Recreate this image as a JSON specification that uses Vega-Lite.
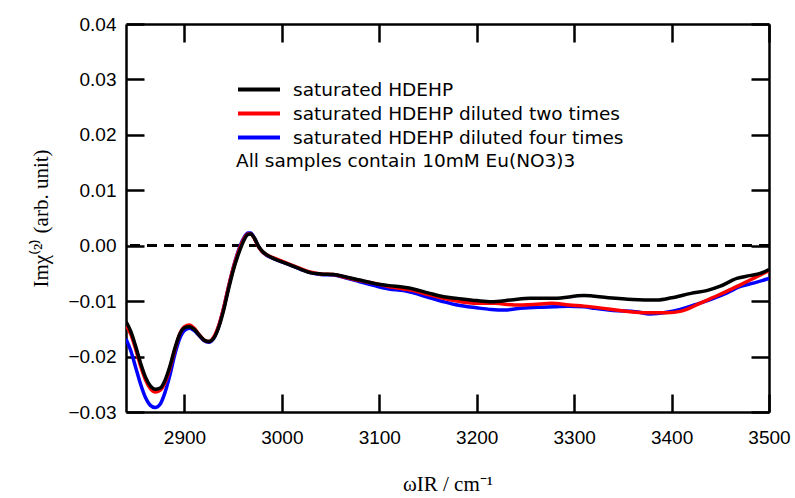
{
  "$schema": "https://vega.github.io/schema/vega-lite/v6.json",
  "width": 643,
  "height": 388,
  "autosize": "none",
  "padding": {"left": 126, "top": 24, "right": 26, "bottom": 86},
  "background": "white",
  "config": {
    "view": {"stroke": null},
    "axis": {
      "grid": false,
      "domainColor": "black",
      "domainWidth": 2.5,
      "tickColor": "black",
      "tickWidth": 2.5,
      "tickSize": -18,
      "labelColor": "black",
      "labelFont": "Liberation Sans",
      "labelFontSize": 19,
      "labelFlush": false,
      "labelOverlap": false,
      "titleColor": "black",
      "titleFont": "Liberation Serif",
      "titleFontSize": 21,
      "titleFontWeight": "normal"
    },
    "legend": {
      "orient": "none",
      "legendX": 110,
      "legendY": 53,
      "padding": 0,
      "symbolType": "M-1,0H3",
      "symbolSize": 441,
      "symbolStrokeWidth": 4,
      "labelFont": "DejaVu Sans",
      "labelFontSize": 18.5,
      "labelColor": "black",
      "labelOffset": 32,
      "labelLimit": 0,
      "rowPadding": 2,
      "titleOrient": "bottom",
      "titleAnchor": "start",
      "titleFont": "DejaVu Sans",
      "titleFontSize": 18.5,
      "titleFontWeight": "normal",
      "titleColor": "black",
      "titlePadding": 5,
      "titleLimit": 0
    }
  },
  "datasets": {
    "spectra": [
      {"sample": "saturated HDEHP", "wavenumber": 2840, "chi": -0.0137},
      {"sample": "saturated HDEHP", "wavenumber": 2845, "chi": -0.0155},
      {"sample": "saturated HDEHP", "wavenumber": 2850, "chi": -0.0182},
      {"sample": "saturated HDEHP", "wavenumber": 2855, "chi": -0.0212},
      {"sample": "saturated HDEHP", "wavenumber": 2860, "chi": -0.0237},
      {"sample": "saturated HDEHP", "wavenumber": 2865, "chi": -0.0253},
      {"sample": "saturated HDEHP", "wavenumber": 2870, "chi": -0.0259},
      {"sample": "saturated HDEHP", "wavenumber": 2875, "chi": -0.0257},
      {"sample": "saturated HDEHP", "wavenumber": 2880, "chi": -0.0243},
      {"sample": "saturated HDEHP", "wavenumber": 2885, "chi": -0.0218},
      {"sample": "saturated HDEHP", "wavenumber": 2890, "chi": -0.0186},
      {"sample": "saturated HDEHP", "wavenumber": 2895, "chi": -0.0160},
      {"sample": "saturated HDEHP", "wavenumber": 2900, "chi": -0.0148},
      {"sample": "saturated HDEHP", "wavenumber": 2905, "chi": -0.0146},
      {"sample": "saturated HDEHP", "wavenumber": 2910, "chi": -0.0151},
      {"sample": "saturated HDEHP", "wavenumber": 2915, "chi": -0.0161},
      {"sample": "saturated HDEHP", "wavenumber": 2920, "chi": -0.0170},
      {"sample": "saturated HDEHP", "wavenumber": 2925, "chi": -0.0173},
      {"sample": "saturated HDEHP", "wavenumber": 2930, "chi": -0.0167},
      {"sample": "saturated HDEHP", "wavenumber": 2935, "chi": -0.0148},
      {"sample": "saturated HDEHP", "wavenumber": 2940, "chi": -0.0118},
      {"sample": "saturated HDEHP", "wavenumber": 2945, "chi": -0.0080},
      {"sample": "saturated HDEHP", "wavenumber": 2950, "chi": -0.0045},
      {"sample": "saturated HDEHP", "wavenumber": 2955, "chi": -0.0017},
      {"sample": "saturated HDEHP", "wavenumber": 2960, "chi": 0.0006},
      {"sample": "saturated HDEHP", "wavenumber": 2965, "chi": 0.0020},
      {"sample": "saturated HDEHP", "wavenumber": 2968, "chi": 0.0021},
      {"sample": "saturated HDEHP", "wavenumber": 2972, "chi": 0.0013},
      {"sample": "saturated HDEHP", "wavenumber": 2976, "chi": -0.0001},
      {"sample": "saturated HDEHP", "wavenumber": 2980, "chi": -0.0010},
      {"sample": "saturated HDEHP", "wavenumber": 2985, "chi": -0.0017},
      {"sample": "saturated HDEHP", "wavenumber": 2990, "chi": -0.0022},
      {"sample": "saturated HDEHP", "wavenumber": 3000, "chi": -0.0029},
      {"sample": "saturated HDEHP", "wavenumber": 3010, "chi": -0.0036},
      {"sample": "saturated HDEHP", "wavenumber": 3020, "chi": -0.0043},
      {"sample": "saturated HDEHP", "wavenumber": 3030, "chi": -0.0049},
      {"sample": "saturated HDEHP", "wavenumber": 3040, "chi": -0.0051},
      {"sample": "saturated HDEHP", "wavenumber": 3053, "chi": -0.0052},
      {"sample": "saturated HDEHP", "wavenumber": 3065, "chi": -0.0056},
      {"sample": "saturated HDEHP", "wavenumber": 3080, "chi": -0.0062},
      {"sample": "saturated HDEHP", "wavenumber": 3095, "chi": -0.0068},
      {"sample": "saturated HDEHP", "wavenumber": 3110, "chi": -0.0072},
      {"sample": "saturated HDEHP", "wavenumber": 3125, "chi": -0.0075},
      {"sample": "saturated HDEHP", "wavenumber": 3135, "chi": -0.0078},
      {"sample": "saturated HDEHP", "wavenumber": 3150, "chi": -0.0085},
      {"sample": "saturated HDEHP", "wavenumber": 3166, "chi": -0.0092},
      {"sample": "saturated HDEHP", "wavenumber": 3180, "chi": -0.0095},
      {"sample": "saturated HDEHP", "wavenumber": 3200, "chi": -0.0099},
      {"sample": "saturated HDEHP", "wavenumber": 3215, "chi": -0.0101},
      {"sample": "saturated HDEHP", "wavenumber": 3235, "chi": -0.0098},
      {"sample": "saturated HDEHP", "wavenumber": 3255, "chi": -0.0095},
      {"sample": "saturated HDEHP", "wavenumber": 3280, "chi": -0.0095},
      {"sample": "saturated HDEHP", "wavenumber": 3310, "chi": -0.0090},
      {"sample": "saturated HDEHP", "wavenumber": 3335, "chi": -0.0094},
      {"sample": "saturated HDEHP", "wavenumber": 3360, "chi": -0.0097},
      {"sample": "saturated HDEHP", "wavenumber": 3385, "chi": -0.0098},
      {"sample": "saturated HDEHP", "wavenumber": 3400, "chi": -0.0094},
      {"sample": "saturated HDEHP", "wavenumber": 3420, "chi": -0.0086},
      {"sample": "saturated HDEHP", "wavenumber": 3436, "chi": -0.0081},
      {"sample": "saturated HDEHP", "wavenumber": 3450, "chi": -0.0073},
      {"sample": "saturated HDEHP", "wavenumber": 3467, "chi": -0.0059},
      {"sample": "saturated HDEHP", "wavenumber": 3480, "chi": -0.0054},
      {"sample": "saturated HDEHP", "wavenumber": 3491, "chi": -0.0050},
      {"sample": "saturated HDEHP", "wavenumber": 3500, "chi": -0.0043},

      {"sample": "saturated HDEHP diluted two times", "wavenumber": 2840, "chi": -0.0143},
      {"sample": "saturated HDEHP diluted two times", "wavenumber": 2845, "chi": -0.0160},
      {"sample": "saturated HDEHP diluted two times", "wavenumber": 2850, "chi": -0.0187},
      {"sample": "saturated HDEHP diluted two times", "wavenumber": 2855, "chi": -0.0217},
      {"sample": "saturated HDEHP diluted two times", "wavenumber": 2860, "chi": -0.0242},
      {"sample": "saturated HDEHP diluted two times", "wavenumber": 2865, "chi": -0.0258},
      {"sample": "saturated HDEHP diluted two times", "wavenumber": 2870, "chi": -0.0264},
      {"sample": "saturated HDEHP diluted two times", "wavenumber": 2875, "chi": -0.0261},
      {"sample": "saturated HDEHP diluted two times", "wavenumber": 2880, "chi": -0.0247},
      {"sample": "saturated HDEHP diluted two times", "wavenumber": 2885, "chi": -0.0221},
      {"sample": "saturated HDEHP diluted two times", "wavenumber": 2890, "chi": -0.0188},
      {"sample": "saturated HDEHP diluted two times", "wavenumber": 2895, "chi": -0.0160},
      {"sample": "saturated HDEHP diluted two times", "wavenumber": 2900, "chi": -0.0146},
      {"sample": "saturated HDEHP diluted two times", "wavenumber": 2905, "chi": -0.0143},
      {"sample": "saturated HDEHP diluted two times", "wavenumber": 2910, "chi": -0.0149},
      {"sample": "saturated HDEHP diluted two times", "wavenumber": 2915, "chi": -0.0160},
      {"sample": "saturated HDEHP diluted two times", "wavenumber": 2920, "chi": -0.0170},
      {"sample": "saturated HDEHP diluted two times", "wavenumber": 2925, "chi": -0.0173},
      {"sample": "saturated HDEHP diluted two times", "wavenumber": 2930, "chi": -0.0165},
      {"sample": "saturated HDEHP diluted two times", "wavenumber": 2935, "chi": -0.0145},
      {"sample": "saturated HDEHP diluted two times", "wavenumber": 2940, "chi": -0.0114},
      {"sample": "saturated HDEHP diluted two times", "wavenumber": 2945, "chi": -0.0076},
      {"sample": "saturated HDEHP diluted two times", "wavenumber": 2950, "chi": -0.0041},
      {"sample": "saturated HDEHP diluted two times", "wavenumber": 2955, "chi": -0.0013},
      {"sample": "saturated HDEHP diluted two times", "wavenumber": 2960, "chi": 0.0009},
      {"sample": "saturated HDEHP diluted two times", "wavenumber": 2965, "chi": 0.0021},
      {"sample": "saturated HDEHP diluted two times", "wavenumber": 2968, "chi": 0.0021},
      {"sample": "saturated HDEHP diluted two times", "wavenumber": 2972, "chi": 0.0012},
      {"sample": "saturated HDEHP diluted two times", "wavenumber": 2976, "chi": -0.0002},
      {"sample": "saturated HDEHP diluted two times", "wavenumber": 2980, "chi": -0.0011},
      {"sample": "saturated HDEHP diluted two times", "wavenumber": 2985, "chi": -0.0017},
      {"sample": "saturated HDEHP diluted two times", "wavenumber": 2990, "chi": -0.0021},
      {"sample": "saturated HDEHP diluted two times", "wavenumber": 3000, "chi": -0.0028},
      {"sample": "saturated HDEHP diluted two times", "wavenumber": 3010, "chi": -0.0035},
      {"sample": "saturated HDEHP diluted two times", "wavenumber": 3020, "chi": -0.0042},
      {"sample": "saturated HDEHP diluted two times", "wavenumber": 3030, "chi": -0.0048},
      {"sample": "saturated HDEHP diluted two times", "wavenumber": 3040, "chi": -0.0051},
      {"sample": "saturated HDEHP diluted two times", "wavenumber": 3053, "chi": -0.0052},
      {"sample": "saturated HDEHP diluted two times", "wavenumber": 3065, "chi": -0.0057},
      {"sample": "saturated HDEHP diluted two times", "wavenumber": 3080, "chi": -0.0063},
      {"sample": "saturated HDEHP diluted two times", "wavenumber": 3095, "chi": -0.0068},
      {"sample": "saturated HDEHP diluted two times", "wavenumber": 3110, "chi": -0.0074},
      {"sample": "saturated HDEHP diluted two times", "wavenumber": 3125, "chi": -0.0078},
      {"sample": "saturated HDEHP diluted two times", "wavenumber": 3135, "chi": -0.0081},
      {"sample": "saturated HDEHP diluted two times", "wavenumber": 3150, "chi": -0.0088},
      {"sample": "saturated HDEHP diluted two times", "wavenumber": 3166, "chi": -0.0095},
      {"sample": "saturated HDEHP diluted two times", "wavenumber": 3180, "chi": -0.0100},
      {"sample": "saturated HDEHP diluted two times", "wavenumber": 3200, "chi": -0.0104},
      {"sample": "saturated HDEHP diluted two times", "wavenumber": 3219, "chi": -0.0104},
      {"sample": "saturated HDEHP diluted two times", "wavenumber": 3239, "chi": -0.0107},
      {"sample": "saturated HDEHP diluted two times", "wavenumber": 3258, "chi": -0.0106},
      {"sample": "saturated HDEHP diluted two times", "wavenumber": 3277, "chi": -0.0104},
      {"sample": "saturated HDEHP diluted two times", "wavenumber": 3295, "chi": -0.0107},
      {"sample": "saturated HDEHP diluted two times", "wavenumber": 3310, "chi": -0.0109},
      {"sample": "saturated HDEHP diluted two times", "wavenumber": 3335, "chi": -0.0114},
      {"sample": "saturated HDEHP diluted two times", "wavenumber": 3363, "chi": -0.0120},
      {"sample": "saturated HDEHP diluted two times", "wavenumber": 3380, "chi": -0.0121},
      {"sample": "saturated HDEHP diluted two times", "wavenumber": 3395, "chi": -0.0121},
      {"sample": "saturated HDEHP diluted two times", "wavenumber": 3410, "chi": -0.0118},
      {"sample": "saturated HDEHP diluted two times", "wavenumber": 3429, "chi": -0.0104},
      {"sample": "saturated HDEHP diluted two times", "wavenumber": 3443, "chi": -0.0093},
      {"sample": "saturated HDEHP diluted two times", "wavenumber": 3457, "chi": -0.0082},
      {"sample": "saturated HDEHP diluted two times", "wavenumber": 3470, "chi": -0.0071},
      {"sample": "saturated HDEHP diluted two times", "wavenumber": 3485, "chi": -0.0058},
      {"sample": "saturated HDEHP diluted two times", "wavenumber": 3500, "chi": -0.0045},

      {"sample": "saturated HDEHP diluted four times", "wavenumber": 2840, "chi": -0.0168},
      {"sample": "saturated HDEHP diluted four times", "wavenumber": 2845, "chi": -0.0190},
      {"sample": "saturated HDEHP diluted four times", "wavenumber": 2850, "chi": -0.0220},
      {"sample": "saturated HDEHP diluted four times", "wavenumber": 2855, "chi": -0.0250},
      {"sample": "saturated HDEHP diluted four times", "wavenumber": 2860, "chi": -0.0274},
      {"sample": "saturated HDEHP diluted four times", "wavenumber": 2865, "chi": -0.0288},
      {"sample": "saturated HDEHP diluted four times", "wavenumber": 2870, "chi": -0.0292},
      {"sample": "saturated HDEHP diluted four times", "wavenumber": 2875, "chi": -0.0286},
      {"sample": "saturated HDEHP diluted four times", "wavenumber": 2880, "chi": -0.0265},
      {"sample": "saturated HDEHP diluted four times", "wavenumber": 2885, "chi": -0.0234},
      {"sample": "saturated HDEHP diluted four times", "wavenumber": 2890, "chi": -0.0197},
      {"sample": "saturated HDEHP diluted four times", "wavenumber": 2895, "chi": -0.0168},
      {"sample": "saturated HDEHP diluted four times", "wavenumber": 2900, "chi": -0.0153},
      {"sample": "saturated HDEHP diluted four times", "wavenumber": 2905, "chi": -0.0149},
      {"sample": "saturated HDEHP diluted four times", "wavenumber": 2910, "chi": -0.0153},
      {"sample": "saturated HDEHP diluted four times", "wavenumber": 2915, "chi": -0.0162},
      {"sample": "saturated HDEHP diluted four times", "wavenumber": 2920, "chi": -0.0171},
      {"sample": "saturated HDEHP diluted four times", "wavenumber": 2925, "chi": -0.0174},
      {"sample": "saturated HDEHP diluted four times", "wavenumber": 2930, "chi": -0.0167},
      {"sample": "saturated HDEHP diluted four times", "wavenumber": 2935, "chi": -0.0146},
      {"sample": "saturated HDEHP diluted four times", "wavenumber": 2940, "chi": -0.0114},
      {"sample": "saturated HDEHP diluted four times", "wavenumber": 2945, "chi": -0.0076},
      {"sample": "saturated HDEHP diluted four times", "wavenumber": 2950, "chi": -0.0040},
      {"sample": "saturated HDEHP diluted four times", "wavenumber": 2955, "chi": -0.0011},
      {"sample": "saturated HDEHP diluted four times", "wavenumber": 2960, "chi": 0.0011},
      {"sample": "saturated HDEHP diluted four times", "wavenumber": 2965, "chi": 0.0023},
      {"sample": "saturated HDEHP diluted four times", "wavenumber": 2968, "chi": 0.0023},
      {"sample": "saturated HDEHP diluted four times", "wavenumber": 2972, "chi": 0.0013},
      {"sample": "saturated HDEHP diluted four times", "wavenumber": 2976, "chi": -0.0001},
      {"sample": "saturated HDEHP diluted four times", "wavenumber": 2980, "chi": -0.0011},
      {"sample": "saturated HDEHP diluted four times", "wavenumber": 2985, "chi": -0.0018},
      {"sample": "saturated HDEHP diluted four times", "wavenumber": 2990, "chi": -0.0022},
      {"sample": "saturated HDEHP diluted four times", "wavenumber": 3000, "chi": -0.0029},
      {"sample": "saturated HDEHP diluted four times", "wavenumber": 3010, "chi": -0.0036},
      {"sample": "saturated HDEHP diluted four times", "wavenumber": 3020, "chi": -0.0043},
      {"sample": "saturated HDEHP diluted four times", "wavenumber": 3030, "chi": -0.0049},
      {"sample": "saturated HDEHP diluted four times", "wavenumber": 3040, "chi": -0.0052},
      {"sample": "saturated HDEHP diluted four times", "wavenumber": 3053, "chi": -0.0053},
      {"sample": "saturated HDEHP diluted four times", "wavenumber": 3065, "chi": -0.0058},
      {"sample": "saturated HDEHP diluted four times", "wavenumber": 3080, "chi": -0.0065},
      {"sample": "saturated HDEHP diluted four times", "wavenumber": 3095, "chi": -0.0072},
      {"sample": "saturated HDEHP diluted four times", "wavenumber": 3110, "chi": -0.0078},
      {"sample": "saturated HDEHP diluted four times", "wavenumber": 3125, "chi": -0.0081},
      {"sample": "saturated HDEHP diluted four times", "wavenumber": 3135, "chi": -0.0085},
      {"sample": "saturated HDEHP diluted four times", "wavenumber": 3150, "chi": -0.0093},
      {"sample": "saturated HDEHP diluted four times", "wavenumber": 3166, "chi": -0.0101},
      {"sample": "saturated HDEHP diluted four times", "wavenumber": 3180, "chi": -0.0107},
      {"sample": "saturated HDEHP diluted four times", "wavenumber": 3200, "chi": -0.0112},
      {"sample": "saturated HDEHP diluted four times", "wavenumber": 3215, "chi": -0.0115},
      {"sample": "saturated HDEHP diluted four times", "wavenumber": 3229, "chi": -0.0116},
      {"sample": "saturated HDEHP diluted four times", "wavenumber": 3245, "chi": -0.0113},
      {"sample": "saturated HDEHP diluted four times", "wavenumber": 3263, "chi": -0.0111},
      {"sample": "saturated HDEHP diluted four times", "wavenumber": 3280, "chi": -0.0110},
      {"sample": "saturated HDEHP diluted four times", "wavenumber": 3294, "chi": -0.0109},
      {"sample": "saturated HDEHP diluted four times", "wavenumber": 3310, "chi": -0.0110},
      {"sample": "saturated HDEHP diluted four times", "wavenumber": 3321, "chi": -0.0113},
      {"sample": "saturated HDEHP diluted four times", "wavenumber": 3340, "chi": -0.0117},
      {"sample": "saturated HDEHP diluted four times", "wavenumber": 3363, "chi": -0.0119},
      {"sample": "saturated HDEHP diluted four times", "wavenumber": 3378, "chi": -0.0123},
      {"sample": "saturated HDEHP diluted four times", "wavenumber": 3395, "chi": -0.0120},
      {"sample": "saturated HDEHP diluted four times", "wavenumber": 3409, "chi": -0.0115},
      {"sample": "saturated HDEHP diluted four times", "wavenumber": 3425, "chi": -0.0106},
      {"sample": "saturated HDEHP diluted four times", "wavenumber": 3443, "chi": -0.0095},
      {"sample": "saturated HDEHP diluted four times", "wavenumber": 3457, "chi": -0.0085},
      {"sample": "saturated HDEHP diluted four times", "wavenumber": 3470, "chi": -0.0074},
      {"sample": "saturated HDEHP diluted four times", "wavenumber": 3485, "chi": -0.0067},
      {"sample": "saturated HDEHP diluted four times", "wavenumber": 3500, "chi": -0.0059}
    ]
  },
  "data": {"name": "spectra"},
  "layer": [
    {
      "mark": {"type": "rule", "color": "black", "strokeWidth": 2, "strokeDash": [10, 7]},
      "encoding": {
        "y": {"datum": 0, "type": "quantitative", "scale": {"domain": [-0.03, 0.04], "nice": false, "zero": false}, "axis": null}
      }
    },
    {
      "transform": [{"filter": "datum.sample === 'saturated HDEHP diluted four times'"}],
      "mark": {"type": "line", "strokeWidth": 3.5, "interpolate": "monotone", "clip": true},
      "encoding": {
        "x": {
          "field": "wavenumber", "type": "quantitative",
          "scale": {"domain": [2840, 3500], "nice": false, "zero": false},
          "axis": {
            "orient": "bottom",
            "values": [2900, 3000, 3100, 3200, 3300, 3400, 3500],
            "format": "d",
            "labelPadding": 34,
            "title": "ωIR / cm⁻¹",
            "titlePadding": 26
          }
        },
        "y": {
          "field": "chi", "type": "quantitative",
          "scale": {"domain": [-0.03, 0.04], "nice": false, "zero": false},
          "axis": {
            "orient": "left",
            "values": [-0.03, -0.02, -0.01, 0, 0.01, 0.02, 0.03, 0.04],
            "format": ".2f",
            "labelPadding": 28,
            "title": "Imχ⁽²⁾ (arb. unit)",
            "titlePadding": 16
          }
        },
        "color": {
          "field": "sample", "type": "nominal",
          "scale": {
            "domain": ["saturated HDEHP", "saturated HDEHP diluted two times", "saturated HDEHP diluted four times"],
            "range": ["#000000", "#ff0000", "#0000ff"]
          },
          "legend": {"title": "All samples contain 10mM Eu(NO3)3"}
        }
      }
    },
    {
      "transform": [{"filter": "datum.sample === 'saturated HDEHP diluted two times'"}],
      "mark": {"type": "line", "strokeWidth": 3.5, "interpolate": "monotone", "clip": true},
      "encoding": {
        "x": {"field": "wavenumber", "type": "quantitative", "axis": null},
        "y": {"field": "chi", "type": "quantitative", "axis": null},
        "color": {"field": "sample", "type": "nominal"}
      }
    },
    {
      "transform": [{"filter": "datum.sample === 'saturated HDEHP'"}],
      "mark": {"type": "line", "strokeWidth": 3.5, "interpolate": "monotone", "clip": true},
      "encoding": {
        "x": {
          "field": "wavenumber", "type": "quantitative",
          "axis": {"orient": "top", "values": [2900, 3000, 3100, 3200, 3300, 3400, 3500], "labels": false, "title": null}
        },
        "y": {
          "field": "chi", "type": "quantitative",
          "axis": {"orient": "right", "values": [-0.03, -0.02, -0.01, 0, 0.01, 0.02, 0.03, 0.04], "labels": false, "title": null}
        },
        "color": {"field": "sample", "type": "nominal"}
      }
    }
  ],
  "resolve": {"axis": {"x": "independent", "y": "independent"}}
}
